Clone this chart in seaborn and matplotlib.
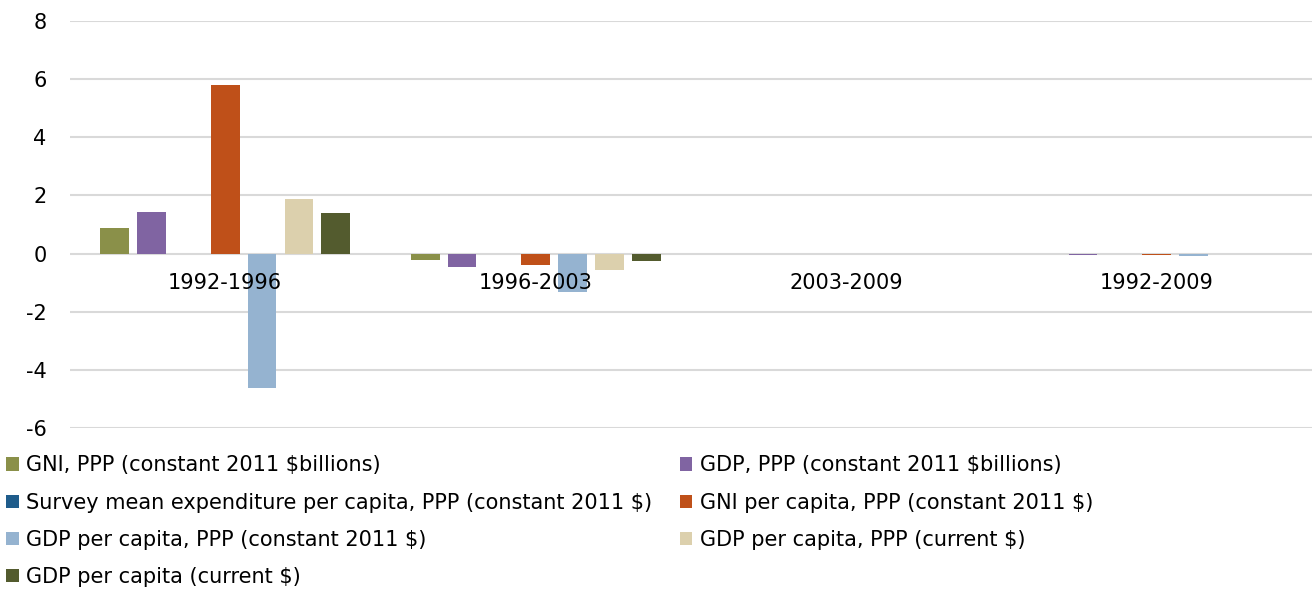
import numpy as np
import pandas as pd
import matplotlib
matplotlib.use("Agg")
import matplotlib.pyplot as plt
import seaborn as sns

categories = ["1992-1996", "1996-2003", "2003-2009", "1992-2009"]
series = [
    "GNI, PPP (constant 2011 $billions)",
    "GDP, PPP (constant 2011 $billions)",
    "Survey mean expenditure per capita, PPP (constant 2011 $)",
    "GNI per capita, PPP (constant 2011 $)",
    "GDP per capita, PPP (constant 2011 $)",
    "GDP per capita, PPP (current $)",
    "GDP per capita (current $)",
]
gni_ppp = [0.88, -0.23, np.nan, -0.02]
gdp_ppp = [1.43, -0.47, np.nan, -0.04]
survey_mean = [np.nan, np.nan, np.nan, np.nan]
gni_pc_ppp = [5.80, -0.38, np.nan, -0.06]
gdp_pc_ppp_const = [-4.64, -1.33, np.nan, -0.07]
gdp_pc_ppp_curr = [1.86, -0.58, np.nan, -0.03]
gdp_pc_curr = [1.40, -0.26, np.nan, -0.01]
yticks = [-6, -4, -2, 0, 2, 4, 6, 8]

colors = ["#8A9049", "#8064A2", "#1F5C8B", "#BF5019", "#95B3D0", "#DCD0AD", "#535B2E"]

values = [gni_ppp, gdp_ppp, survey_mean, gni_pc_ppp, gdp_pc_ppp_const, gdp_pc_ppp_curr, gdp_pc_curr]
rows = []
for s, vals in zip(series, values):
    for c, v in zip(categories, vals):
        rows.append({"period": c, "series": s, "value": v})
df = pd.DataFrame(rows)

sns.set_theme(style="white")
plt.rcParams["font.family"] = ["DejaVu Sans"]

fig = plt.figure(figsize=(13.14, 5.90), dpi=100)
ax = fig.add_axes([70 / 1314, 1 - 428 / 590, (1312 - 70) / 1314, (428 - 21) / 590])

sns.barplot(data=df, x="period", y="value", hue="series", order=categories,
            hue_order=series, palette=colors, width=0.83, gap=0.22,
            saturation=1, errorbar=None, ax=ax, legend=True, linewidth=0)

ax.set_ylim(-6, 8)
ax.set_yticks(yticks)
ax.set_yticklabels([str(t) for t in yticks], fontsize=15, color="#000000")
ax.yaxis.grid(True, color="#d9d9d9", linewidth=1.5)
ax.set_axisbelow(True)
ax.xaxis.set_zorder(10)
for sp in ax.spines.values():
    sp.set_visible(False)
ax.spines["bottom"].set_position(("data", 0))
ax.tick_params(axis="y", length=0, pad=17, labelcolor="#000000")
ax.tick_params(axis="x", length=0, pad=14, labelsize=15, labelcolor="#000000")
ax.set_xlabel("")
ax.set_ylabel("")
ax.set_xlim(-0.5, 3.5)

handles, labels = ax.get_legend_handles_labels()
ax.get_legend().remove()
order = [0, 2, 4, 6, 1, 3, 5]
leg = fig.legend([handles[i] for i in order], [labels[i] for i in order],
                 loc="upper left", bbox_to_anchor=(0.0, 1 - 449 / 590), ncol=2,
                 frameon=False, fontsize=15, handlelength=0.6, handleheight=0.6,
                 handletextpad=0.35, columnspacing=1.33, labelspacing=0.83,
                 borderaxespad=0, borderpad=0.3)
for t in leg.get_texts():
    t.set_color("#000000")

fig.savefig("out.png", dpi=100)
